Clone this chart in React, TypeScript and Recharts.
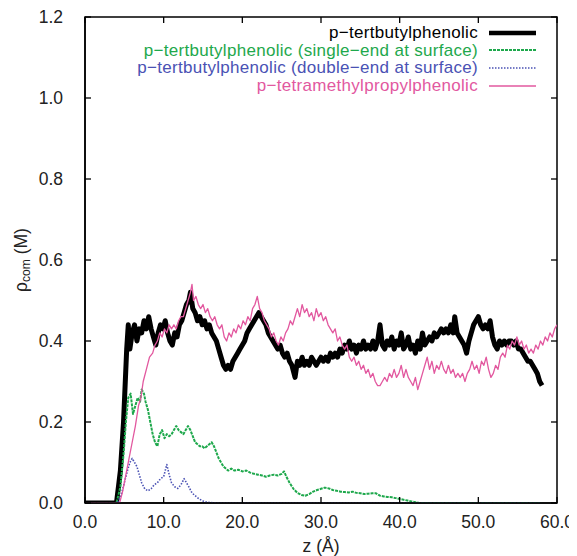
import React from "react";
import { LineChart, Line, XAxis, YAxis, Legend, ReferenceArea } from "recharts";

type P = [number, number];

const xTicks = [0, 10, 20, 30, 40, 50, 60];
const yTicks = [0, 0.2, 0.4, 0.6, 0.8, 1.0, 1.2];

const seriesNames = [
  "p\u2212tertbutylphenolic",
  "p\u2212tertbutylphenolic (single\u2212end at surface)",
  "p\u2212tertbutylphenolic (double\u2212end at surface)",
  "p\u2212tetramethylpropylphenolic",
];

const tertbutyl: P[] = [
  [0, 0], [4.0, 0], [4.5, 0.08], [4.9, 0.2], [5.3, 0.38], [5.5, 0.44], [5.7, 0.38], [6.0, 0.42],
  [6.3, 0.44], [6.6, 0.4], [6.9, 0.43], [7.2, 0.42], [7.5, 0.45], [7.8, 0.43], [8.1, 0.46], [8.4, 0.43],
  [8.7, 0.41], [9.0, 0.39], [9.3, 0.42], [9.6, 0.44], [9.9, 0.43], [10.2, 0.45], [10.5, 0.42], [10.8, 0.4],
  [11.1, 0.39], [11.4, 0.42], [11.7, 0.41], [12.0, 0.44], [12.3, 0.45], [12.6, 0.47], [12.9, 0.49],
  [13.2, 0.5], [13.4, 0.52], [13.7, 0.48], [14.0, 0.47], [14.3, 0.45], [14.6, 0.46], [14.9, 0.44],
  [15.2, 0.45], [15.5, 0.43], [15.8, 0.44], [16.1, 0.42], [16.4, 0.41], [16.7, 0.4], [17.0, 0.38],
  [17.3, 0.36], [17.6, 0.34], [17.9, 0.33], [18.2, 0.34], [18.5, 0.33], [18.8, 0.35], [19.1, 0.36],
  [19.4, 0.37], [19.7, 0.38], [20.0, 0.39], [20.3, 0.4], [20.6, 0.42], [20.9, 0.43], [21.2, 0.44],
  [21.5, 0.45], [21.8, 0.46], [22.1, 0.47], [22.4, 0.46], [22.7, 0.45], [23.0, 0.44], [23.3, 0.42],
  [23.6, 0.41], [23.9, 0.4], [24.2, 0.39], [24.5, 0.38], [24.8, 0.39], [25.1, 0.37], [25.4, 0.36],
  [25.7, 0.37], [26.0, 0.35], [26.3, 0.34], [26.7, 0.31], [27.0, 0.35], [27.3, 0.34], [27.6, 0.36],
  [27.9, 0.34], [28.2, 0.35], [28.5, 0.34], [28.8, 0.36], [29.1, 0.35], [29.4, 0.34], [29.7, 0.35],
  [30.0, 0.36], [30.3, 0.35], [30.6, 0.36], [30.9, 0.35], [31.2, 0.37], [31.5, 0.36], [31.8, 0.37],
  [32.1, 0.36], [32.4, 0.38], [32.7, 0.37], [33.0, 0.39], [33.3, 0.38], [33.6, 0.4], [33.9, 0.38],
  [34.2, 0.39], [34.5, 0.37], [34.8, 0.39], [35.1, 0.38], [35.4, 0.4], [35.7, 0.38], [36.0, 0.39],
  [36.3, 0.38], [36.6, 0.4], [36.9, 0.38], [37.2, 0.4], [37.5, 0.44], [37.8, 0.39], [38.1, 0.38],
  [38.4, 0.4], [38.7, 0.39], [39.0, 0.41], [39.3, 0.38], [39.6, 0.4], [39.9, 0.39], [40.2, 0.42],
  [40.5, 0.38], [40.8, 0.39], [41.1, 0.41], [41.4, 0.38], [41.7, 0.39], [42.0, 0.37], [42.3, 0.4],
  [42.6, 0.38], [42.9, 0.42], [43.2, 0.39], [43.5, 0.4], [43.8, 0.41], [44.1, 0.4], [44.4, 0.42],
  [44.7, 0.41], [45.0, 0.42], [45.3, 0.43], [45.6, 0.42], [45.9, 0.43], [46.2, 0.42], [46.5, 0.44],
  [46.8, 0.42], [47.0, 0.46], [47.3, 0.42], [47.6, 0.41], [47.9, 0.4], [48.2, 0.39], [48.5, 0.37],
  [48.8, 0.4], [49.1, 0.42], [49.4, 0.44], [49.7, 0.45], [50.0, 0.46], [50.3, 0.44], [50.6, 0.43],
  [50.9, 0.44], [51.2, 0.43], [51.5, 0.45], [51.8, 0.41], [52.1, 0.39], [52.4, 0.38], [52.7, 0.4],
  [53.0, 0.39], [53.3, 0.4], [53.6, 0.39], [53.9, 0.4], [54.2, 0.4], [54.5, 0.39], [54.8, 0.4],
  [55.1, 0.38], [55.4, 0.38], [55.7, 0.37], [56.0, 0.36], [56.3, 0.35], [56.6, 0.35], [56.9, 0.34],
  [57.2, 0.33], [57.5, 0.32], [57.8, 0.3], [58.1, 0.29],
];

const singleEnd: P[] = [
  [0, 0], [4.0, 0], [4.5, 0.04], [4.9, 0.12], [5.2, 0.2], [5.5, 0.26], [5.8, 0.27], [6.1, 0.22],
  [6.4, 0.24], [6.7, 0.26], [7.0, 0.25], [7.2, 0.28], [7.5, 0.27], [7.7, 0.25], [8.0, 0.23], [8.3, 0.2],
  [8.6, 0.17], [8.9, 0.15], [9.2, 0.14], [9.5, 0.17], [9.8, 0.18], [10.1, 0.16], [10.4, 0.17],
  [10.7, 0.165], [11.0, 0.17], [11.3, 0.18], [11.6, 0.19], [11.9, 0.18], [12.2, 0.175], [12.5, 0.17],
  [12.8, 0.18], [13.1, 0.19], [13.4, 0.18], [13.7, 0.165], [14.0, 0.15], [14.3, 0.145], [14.6, 0.14],
  [14.9, 0.14], [15.2, 0.135], [15.5, 0.14], [15.8, 0.145], [16.1, 0.15], [16.4, 0.14], [16.7, 0.125],
  [17.0, 0.11], [17.3, 0.1], [17.6, 0.09], [17.9, 0.085], [18.2, 0.08], [18.6, 0.085], [19.0, 0.08],
  [19.5, 0.082], [20.0, 0.078], [20.5, 0.08], [21.0, 0.075], [21.5, 0.072], [22.0, 0.07], [22.5, 0.068],
  [23.0, 0.065], [23.5, 0.068], [24.0, 0.07], [24.5, 0.068], [25.0, 0.072], [25.3, 0.078], [25.6, 0.065],
  [26.0, 0.05], [26.5, 0.035], [27.0, 0.025], [27.5, 0.02], [28.0, 0.018], [28.5, 0.022], [29.0, 0.028],
  [29.5, 0.032], [30.0, 0.035], [30.5, 0.038], [31.0, 0.036], [31.5, 0.032], [32.0, 0.03], [32.5, 0.028],
  [33.0, 0.027], [33.5, 0.026], [34.0, 0.028], [34.5, 0.025], [35.0, 0.024], [35.5, 0.022], [36.0, 0.023],
  [36.5, 0.024], [37.0, 0.024], [37.5, 0.018], [38.0, 0.016], [38.5, 0.015], [39.0, 0.014], [39.5, 0.012],
  [40.0, 0.01], [40.5, 0.008], [41.0, 0.006], [41.5, 0.004], [42.0, 0.002], [42.5, 0], [58.0, 0],
];

const doubleEnd: P[] = [
  [0, 0], [4.1, 0], [4.6, 0.02], [5.0, 0.05], [5.4, 0.08], [5.7, 0.1], [6.0, 0.11], [6.3, 0.1],
  [6.6, 0.09], [6.9, 0.07], [7.2, 0.05], [7.6, 0.035], [8.0, 0.03], [8.4, 0.035], [8.8, 0.045],
  [9.2, 0.05], [9.6, 0.06], [10.0, 0.065], [10.4, 0.095], [10.7, 0.07], [11.0, 0.05], [11.4, 0.04],
  [11.8, 0.036], [12.2, 0.045], [12.6, 0.06], [12.9, 0.05], [13.2, 0.04], [13.6, 0.025], [14.0, 0.018],
  [14.5, 0.01], [15.0, 0.005], [15.5, 0.002], [16.0, 0.001], [17.0, 0], [58.0, 0],
];

const tetramethyl: P[] = [
  [0, 0], [4.4, 0], [4.8, 0.03], [5.2, 0.07], [5.6, 0.11], [6.0, 0.15], [6.4, 0.19], [6.8, 0.24],
  [7.1, 0.26], [7.4, 0.3], [7.8, 0.33], [8.2, 0.36], [8.6, 0.37], [8.9, 0.39], [9.2, 0.4], [9.5, 0.42],
  [9.8, 0.41], [10.1, 0.43], [10.4, 0.42], [10.7, 0.44], [11.0, 0.43], [11.3, 0.44], [11.6, 0.43],
  [11.9, 0.45], [12.2, 0.46], [12.5, 0.46], [12.8, 0.48], [13.1, 0.5], [13.4, 0.52], [13.6, 0.54],
  [13.8, 0.5], [14.1, 0.51], [14.4, 0.49], [14.7, 0.48], [15.0, 0.49], [15.3, 0.47], [15.6, 0.48],
  [15.9, 0.46], [16.2, 0.45], [16.5, 0.46], [16.8, 0.44], [17.1, 0.43], [17.4, 0.44], [17.7, 0.41],
  [18.0, 0.4], [18.3, 0.42], [18.6, 0.41], [18.9, 0.43], [19.2, 0.42], [19.5, 0.44], [19.8, 0.43],
  [20.1, 0.45], [20.4, 0.44], [20.7, 0.46], [21.0, 0.45], [21.3, 0.48], [21.6, 0.49], [21.9, 0.51],
  [22.2, 0.48], [22.5, 0.47], [22.8, 0.45], [23.1, 0.44], [23.4, 0.43], [23.7, 0.41], [24.0, 0.42],
  [24.3, 0.4], [24.6, 0.39], [24.9, 0.41], [25.2, 0.4], [25.5, 0.42], [25.8, 0.43], [26.1, 0.45],
  [26.4, 0.44], [26.7, 0.46], [27.0, 0.48], [27.3, 0.46], [27.6, 0.49], [27.9, 0.47], [28.2, 0.48],
  [28.5, 0.46], [28.8, 0.47], [29.1, 0.45], [29.4, 0.48], [29.7, 0.46], [30.0, 0.47], [30.3, 0.45],
  [30.6, 0.46], [30.9, 0.44], [31.2, 0.43], [31.5, 0.42], [31.8, 0.43], [32.1, 0.4], [32.4, 0.41],
  [32.7, 0.39], [33.0, 0.38], [33.3, 0.39], [33.6, 0.36], [33.9, 0.35], [34.2, 0.36], [34.5, 0.34],
  [34.8, 0.35], [35.1, 0.33], [35.4, 0.34], [35.7, 0.32], [36.0, 0.33], [36.3, 0.31], [36.6, 0.32],
  [36.9, 0.3], [37.2, 0.29], [37.5, 0.29], [37.8, 0.3], [38.1, 0.31], [38.4, 0.3], [38.7, 0.32],
  [39.0, 0.31], [39.3, 0.33], [39.6, 0.31], [39.9, 0.32], [40.2, 0.34], [40.5, 0.31], [40.8, 0.33],
  [41.1, 0.31], [41.4, 0.3], [41.7, 0.29], [42.0, 0.31], [42.3, 0.28], [42.6, 0.3], [42.9, 0.32],
  [43.2, 0.34], [43.5, 0.36], [43.8, 0.33], [44.1, 0.35], [44.4, 0.32], [44.7, 0.34], [45.0, 0.33],
  [45.3, 0.35], [45.6, 0.33], [45.9, 0.32], [46.2, 0.34], [46.5, 0.32], [46.8, 0.33], [47.1, 0.31],
  [47.4, 0.32], [47.7, 0.31], [48.0, 0.32], [48.3, 0.3], [48.6, 0.32], [48.9, 0.33], [49.2, 0.35],
  [49.5, 0.33], [49.8, 0.34], [50.1, 0.32], [50.4, 0.35], [50.7, 0.34], [51.0, 0.36], [51.3, 0.33],
  [51.6, 0.31], [51.9, 0.32], [52.2, 0.34], [52.5, 0.33], [52.8, 0.36], [53.1, 0.37], [53.4, 0.36],
  [53.7, 0.39], [54.0, 0.38], [54.3, 0.4], [54.6, 0.39], [54.9, 0.41], [55.2, 0.39], [55.5, 0.4],
  [55.8, 0.38], [56.1, 0.39], [56.4, 0.37], [56.7, 0.38], [57.0, 0.37], [57.3, 0.39], [57.6, 0.38],
  [57.9, 0.4], [58.2, 0.39], [58.5, 0.41], [58.8, 0.4], [59.1, 0.42], [59.4, 0.41], [59.7, 0.43],
  [60.0, 0.44],
];

const toRows = (pts: P[]) => pts.map(([z, v]) => ({ z, v }));

const FONT = '"Liberation Sans", Arial, Helvetica, sans-serif';
const COLORS = ["#000000", "#1ea84c", "#4a52b4", "#e2589f"];

const styles = [
  { stroke: COLORS[0], width: 5, dash: undefined as string | undefined },
  { stroke: COLORS[1], width: 2, dash: "3 1" },
  { stroke: COLORS[2], width: 1.6, dash: "1.5 1.5" },
  { stroke: COLORS[3], width: 1.3, dash: undefined as string | undefined },
];

const CHART_W = 569;
const CHART_H = 548;
const MARGIN = { top: 9, right: 20, bottom: 13, left: 0 };
const X_AXIS_H = 40;
const Y_AXIS_W = 77;
const PLOT_W = CHART_W - MARGIN.left - MARGIN.right - Y_AXIS_W;
const PLOT_H = CHART_H - MARGIN.top - MARGIN.bottom - X_AXIS_H;
const X_TICK_MARGIN = 13;
const Y_TICK_MARGIN = 22;
const TICK_LEN = 6;
const TICK_FONT = 17.5;

const XTick = (props: any) => {
  const { x, y, payload } = props;
  const ay = y - X_TICK_MARGIN;
  return (
    <g>
      <line x1={x} x2={x} y1={ay} y2={ay - TICK_LEN} stroke="#000" strokeWidth={1.3} />
      <line x1={x} x2={x} y1={ay - PLOT_H} y2={ay - PLOT_H + TICK_LEN} stroke="#000" strokeWidth={1.3} />
      <text x={x} y={y} dy="0.71em" textAnchor="middle" fontFamily={FONT} fontSize={TICK_FONT} fill="#222">
        {Number(payload.value).toFixed(1)}
      </text>
    </g>
  );
};

const YTick = (props: any) => {
  const { x, y, payload } = props;
  const ax = x + Y_TICK_MARGIN;
  return (
    <g>
      <line x1={ax} x2={ax + TICK_LEN} y1={y} y2={y} stroke="#000" strokeWidth={1.3} />
      <line x1={ax + PLOT_W} x2={ax + PLOT_W - TICK_LEN} y1={y} y2={y} stroke="#000" strokeWidth={1.3} />
      <text x={x} y={y} dy="0.355em" textAnchor="end" fontFamily={FONT} fontSize={TICK_FONT} fill="#222">
        {Number(payload.value).toFixed(1)}
      </text>
    </g>
  );
};

const LegendBox = () => (
  <div style={{ width: 528, fontFamily: FONT, fontSize: 17 }}>
    {seriesNames.map((name, i) => (
      <div
        key={name}
        style={{
          display: "flex",
          justifyContent: "flex-end",
          alignItems: "center",
          height: 17.6,
          lineHeight: "17.6px",
        }}
      >
        <span style={{ color: COLORS[i], whiteSpace: "nowrap", letterSpacing: 0.3 }}>{name}</span>
        <svg width={47} height={8} style={{ marginLeft: 11 }}>
          <line
            x1={0}
            y1={4}
            x2={47}
            y2={4}
            stroke={styles[i].stroke}
            strokeWidth={i === 0 ? 4.5 : styles[i].width}
            strokeDasharray={styles[i].dash}
          />
        </svg>
      </div>
    ))}
  </div>
);

const YLabel = (props: any) => {
  const vb = props.viewBox || {};
  const cx = 13;
  const cy = (vb.y ?? 0) + (vb.height ?? 0) / 2;
  return (
    <text
      x={cx}
      y={cy}
      transform={`rotate(-90 ${cx} ${cy})`}
      textAnchor="middle"
      dominantBaseline="central"
      fontFamily={FONT}
      fontSize={17.5}
      fill="#222"
    >
      {"\u03c1"}
      <tspan fontSize={12} dy={5}>com</tspan>
      <tspan dy={-5}> (M)</tspan>
    </text>
  );
};

const XLabel = (props: any) => {
  const vb = props.viewBox || {};
  const cx = (vb.x ?? 0) + (vb.width ?? 0) / 2;
  return (
    <text x={cx} y={544} textAnchor="middle" fontFamily={FONT} fontSize={17.5} fill="#222">
      z (Å)
    </text>
  );
};

export default function App() {
  return (
    <LineChart
      width={CHART_W}
      height={CHART_H}
      margin={MARGIN}
      style={{ background: "#fff", overflow: "visible" }}
    >
      <XAxis
        xAxisId="b"
        dataKey="z"
        type="number"
        domain={[0, 60]}
        ticks={xTicks}
        interval={0}
        allowDataOverflow
        tickLine={false}
        tickSize={0}
        tickMargin={X_TICK_MARGIN}
        height={X_AXIS_H}
        stroke="#000"
        strokeWidth={1.5}
        tick={<XTick />}
        label={<XLabel />}
      />
      <YAxis
        yAxisId="l"
        type="number"
        domain={[0, 1.2]}
        ticks={yTicks}
        interval={0}
        allowDataOverflow
        tickLine={false}
        tickSize={0}
        tickMargin={Y_TICK_MARGIN}
        width={Y_AXIS_W}
        stroke="#000"
        strokeWidth={1.5}
        tick={<YTick />}
        label={<YLabel />}
      />
      <Legend
        layout="vertical"
        align="center"
        verticalAlign="middle"
        wrapperStyle={{ top: 16, left: 0, width: 528 }}
        content={() => <LegendBox />}
      />
      {[tertbutyl, singleEnd, doubleEnd, tetramethyl].map((pts, i) => (
        <Line
          key={seriesNames[i]}
          xAxisId="b"
          yAxisId="l"
          data={toRows(pts)}
          dataKey="v"
          name={seriesNames[i]}
          type="linear"
          stroke={styles[i].stroke}
          strokeWidth={styles[i].width}
          strokeDasharray={styles[i].dash}
          dot={false}
          activeDot={false}
          isAnimationActive={false}
          strokeLinejoin="round"
        />
      ))}
      <ReferenceArea
        xAxisId="b"
        yAxisId="l"
        x1={0}
        x2={60}
        y1={0}
        y2={1.2}
        fill="none"
        fillOpacity={0}
        stroke="#000"
        strokeWidth={1.5}
        ifOverflow="visible"
      />
    </LineChart>
  );
}
